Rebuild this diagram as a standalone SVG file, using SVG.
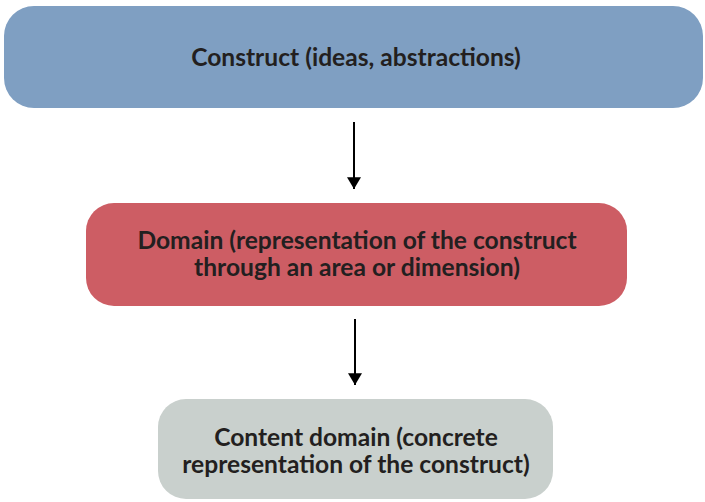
<svg xmlns="http://www.w3.org/2000/svg" width="705" height="502" viewBox="0 0 705 502">
<defs>
<style>
.lbl{font-family:Lato,"Open Sans","Liberation Sans",sans-serif;font-weight:bold;font-size:24.6px;fill:#231f20;text-anchor:middle}
.con{stroke:#000;stroke-width:2;fill:none}
</style>
<marker id="ah" viewBox="0 0 10 12" refX="10" refY="6" markerWidth="6" markerHeight="7" markerUnits="strokeWidth" orient="auto">
<path d="M0,0 L10,6 L0,12 z" fill="#000"/>
</marker>
</defs>
<rect width="705" height="502" fill="#fff"/>
<g id="construct">
<rect x="4" y="6" width="699" height="102" rx="30" fill="#7f9fc2"/>
<text class="lbl" x="356" y="66">Construct (ideas, abstractions)</text>
</g>
<g id="domain">
<rect x="86" y="203" width="541" height="103" rx="28" fill="#cd5d64"/>
<text class="lbl" x="357" y="249">Domain (representation of the construct</text>
<text class="lbl" x="357" y="276">through an area or dimension)</text>
</g>
<g id="content-domain">
<rect x="158" y="399" width="395" height="100" rx="28" fill="#c9d0cd"/>
<text class="lbl" x="356" y="446">Content domain (concrete</text>
<text class="lbl" x="356" y="473">representation of the construct)</text>
</g>
<g id="connectors">
<line class="con" x1="354" y1="122" x2="354" y2="189" marker-end="url(#ah)"/>
<line class="con" x1="355" y1="319" x2="355" y2="385" marker-end="url(#ah)"/>
</g>
</svg>
